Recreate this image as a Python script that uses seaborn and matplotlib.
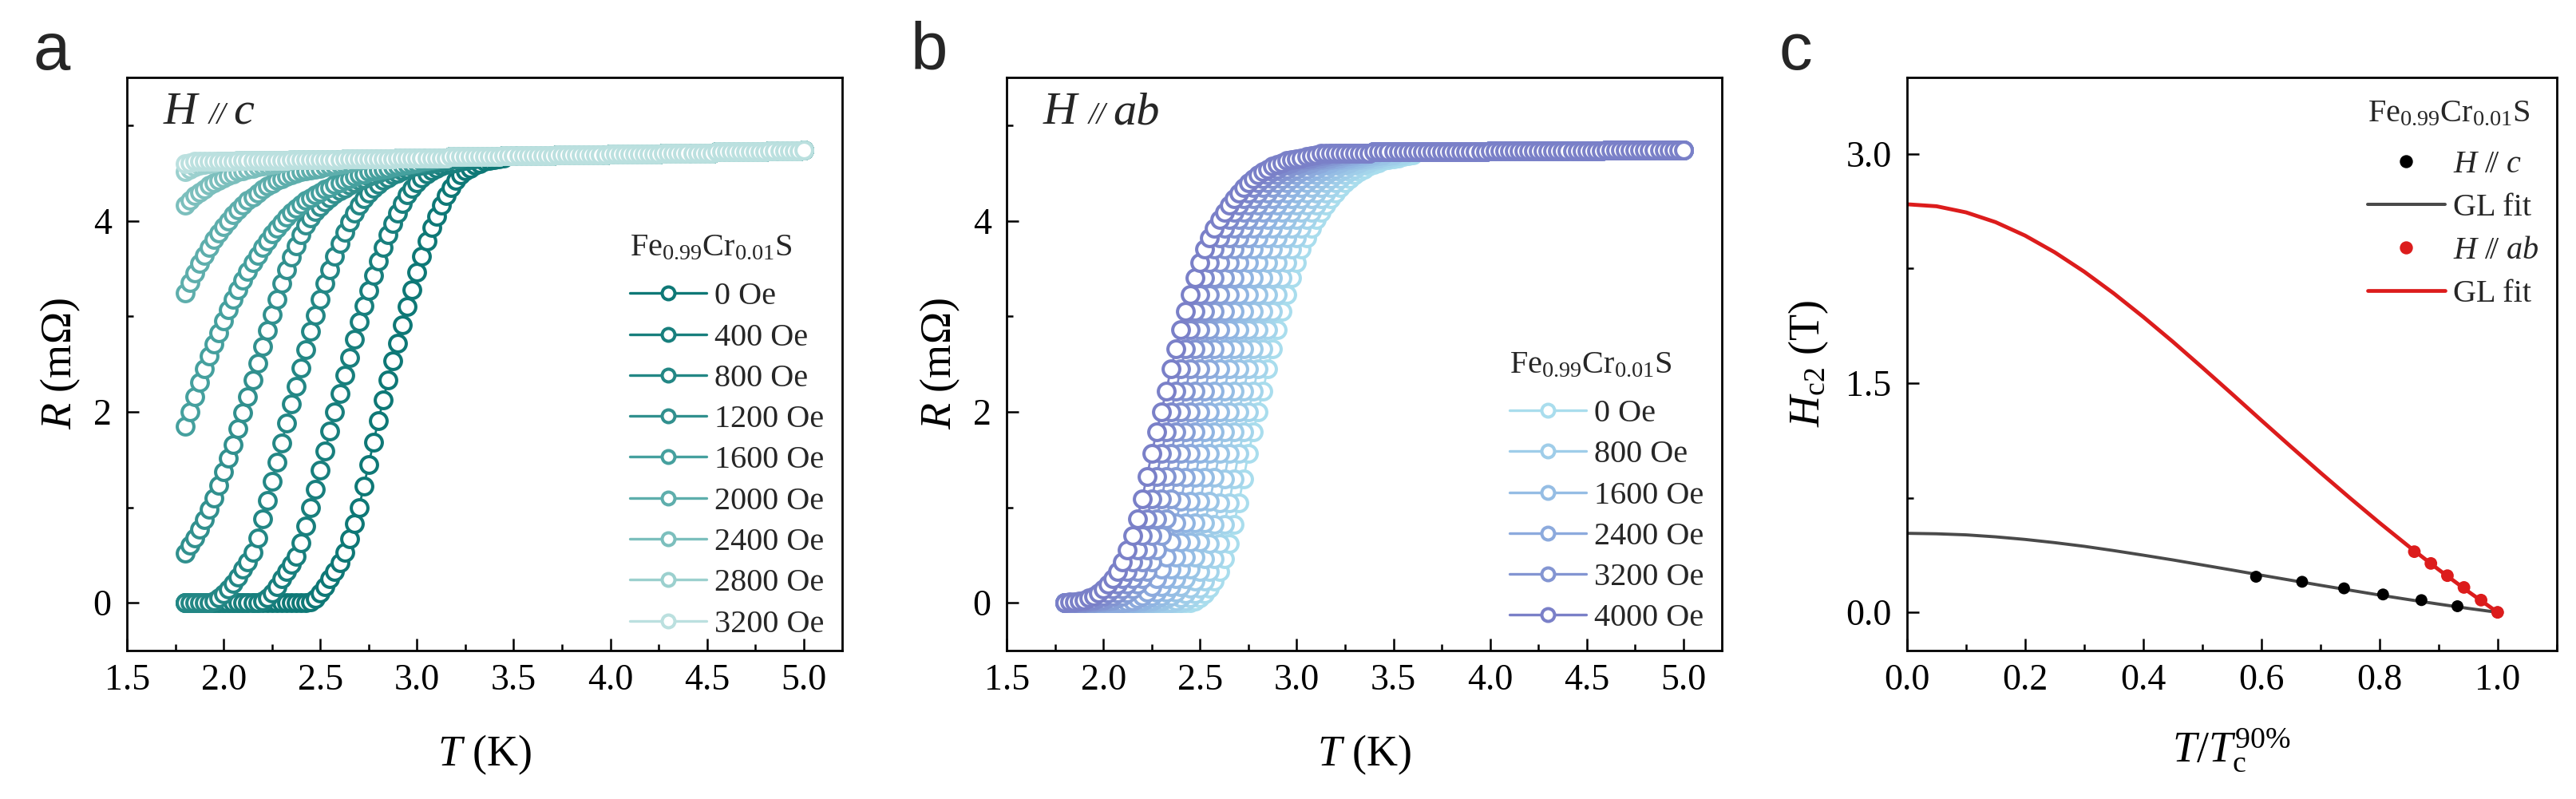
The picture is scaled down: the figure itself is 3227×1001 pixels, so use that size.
import numpy as np
import pandas as pd
import matplotlib.pyplot as plt
from matplotlib.lines import Line2D
from matplotlib.ticker import MultipleLocator, FormatStrFormatter
import seaborn as sns

sns.set_theme(style='ticks')
plt.rcParams['font.family'] = ['Liberation Serif', 'DejaVu Serif']
plt.rcParams['mathtext.fontset'] = 'custom'
plt.rcParams['mathtext.rm'] = 'Liberation Serif'
plt.rcParams['mathtext.it'] = 'Liberation Serif:italic'
plt.rcParams['mathtext.bf'] = 'Liberation Serif:bold'
plt.rcParams['axes.edgecolor'] = 'black'
plt.rcParams['axes.labelcolor'] = 'black'
plt.rcParams['xtick.color'] = 'black'
plt.rcParams['ytick.color'] = 'black'

# temperature grid of the R(T) sweeps (K)
T_first, T_step, n_T = 1.80, 0.025, 129
T = np.round(np.linspace(1.80, 5.00, n_T), 3)

#####################################################
##### panel a : H // c
#####################################################
fields_a = ['0 Oe', '400 Oe', '800 Oe', '1200 Oe', '1600 Oe',
            '2000 Oe', '2400 Oe', '2800 Oe', '3200 Oe']
# first temperature of each listed segment (below it R = 0)
onset_a = [2.425, 2.175, 1.925, 1.80, 1.80, 1.80, 1.80, 1.80, 1.80]

R_a_0 = [0.00, 0.01, 0.04, 0.10, 0.17, 0.25, 0.33, 0.42, 0.53, 0.67,
         0.83, 1.00, 1.22, 1.45, 1.68, 1.91, 2.12, 2.33, 2.53, 2.72,
         2.91, 3.10, 3.28, 3.46, 3.63, 3.79, 3.93, 4.05, 4.16, 4.26,
         4.35, 4.42, 4.48, 4.52, 4.55, 4.58, 4.60, 4.62, 4.63, 4.64,
         4.65, 4.66]
R_a_400 = [0.00, 0.02, 0.05, 0.10, 0.17, 0.25, 0.33, 0.40, 0.49, 0.63,
           0.80, 1.00, 1.19, 1.39, 1.59, 1.80, 2.00, 2.19, 2.38, 2.57,
           2.76, 2.94, 3.11, 3.27, 3.43, 3.58, 3.72, 3.85, 3.97, 4.08,
           4.18, 4.27, 4.34, 4.40, 4.45, 4.49, 4.52, 4.55, 4.57, 4.59,
           4.60, 4.61, 4.62, 4.63, 4.64, 4.65]
R_a_800 = [0.00, 0.02, 0.05, 0.09, 0.14, 0.20, 0.27, 0.35, 0.43, 0.53,
           0.68, 0.88, 1.07, 1.27, 1.47, 1.67, 1.88, 2.08, 2.27, 2.46,
           2.65, 2.84, 3.01, 3.18, 3.34, 3.49, 3.63, 3.76, 3.88, 3.99,
           4.08, 4.16, 4.23, 4.29, 4.34, 4.38, 4.42, 4.45, 4.48, 4.50,
           4.52, 4.54, 4.56, 4.57, 4.58, 4.59, 4.60, 4.61, 4.62, 4.63,
           4.64, 4.65, 4.66]
R_a_1200 = [0.52, 0.60, 0.68, 0.77, 0.87, 0.98, 1.10, 1.23, 1.37, 1.51,
            1.66, 1.82, 1.99, 2.16, 2.33, 2.51, 2.68, 2.85, 3.02, 3.18,
            3.34, 3.49, 3.62, 3.74, 3.85, 3.95, 4.03, 4.10, 4.15, 4.20,
            4.24, 4.28, 4.31, 4.34, 4.37, 4.40, 4.42, 4.44, 4.46, 4.48,
            4.50, 4.52, 4.53, 4.55, 4.56, 4.57, 4.58, 4.59, 4.60, 4.61,
            4.62, 4.63, 4.64, 4.65]
R_a_1600 = [1.85, 2.00, 2.16, 2.31, 2.45, 2.58, 2.71, 2.83, 2.95, 3.07,
            3.18, 3.28, 3.38, 3.47, 3.56, 3.64, 3.72, 3.79, 3.86, 3.92,
            3.98, 4.04, 4.09, 4.13, 4.17, 4.21, 4.24, 4.27, 4.30, 4.33,
            4.35, 4.38, 4.40, 4.42, 4.44, 4.46, 4.48, 4.49, 4.51, 4.52,
            4.53, 4.54, 4.55, 4.56, 4.57, 4.58, 4.59, 4.60, 4.61, 4.62,
            4.63, 4.64, 4.65]
R_a_2000 = [3.24, 3.35, 3.45, 3.55, 3.64, 3.72, 3.80, 3.87, 3.94, 4.00,
            4.06, 4.11, 4.16, 4.21, 4.25, 4.29, 4.33, 4.36, 4.39, 4.42,
            4.44, 4.46, 4.48, 4.50, 4.51, 4.52, 4.53, 4.54, 4.55, 4.56,
            4.57, 4.58, 4.59, 4.60, 4.61, 4.62, 4.63, 4.64, 4.65]
R_a_2400 = [4.16, 4.21, 4.26, 4.30, 4.33, 4.37, 4.40, 4.42, 4.45, 4.47,
            4.49, 4.51, 4.52, 4.54, 4.55, 4.56, 4.57, 4.58, 4.59, 4.60,
            4.61, 4.62, 4.63]
R_a_2800 = [4.51, 4.54, 4.56, 4.58, 4.59, 4.60, 4.61]
R_a_3200 = [4.60, 4.61]

# normal-state resistance shared by all sweeps once they have left the transition
R_normal_a = [
    4.62, 4.62, 4.62, 4.62, 4.62, 4.62, 4.62, 4.62, 4.62, 4.62, 4.62,
    4.63, 4.63, 4.63, 4.63, 4.63, 4.63, 4.63, 4.63, 4.63, 4.63, 4.63,
    4.64, 4.64, 4.64, 4.64, 4.64, 4.64, 4.64, 4.64, 4.64, 4.64, 4.64,
    4.65, 4.65, 4.65, 4.65, 4.65, 4.65, 4.65, 4.65, 4.65, 4.65, 4.65,
    4.66, 4.66, 4.66, 4.66, 4.66, 4.66, 4.66, 4.66, 4.66, 4.66, 4.66,
    4.67, 4.67, 4.67, 4.67, 4.67, 4.67, 4.67, 4.67, 4.67, 4.67, 4.67,
    4.68, 4.68, 4.68, 4.68, 4.68, 4.68, 4.68, 4.68, 4.68, 4.68, 4.68,
    4.69, 4.69, 4.69, 4.69, 4.69, 4.69, 4.69, 4.69, 4.69, 4.69, 4.69,
    4.70, 4.70, 4.70, 4.70, 4.70, 4.70, 4.70, 4.70, 4.70, 4.70, 4.70,
    4.71, 4.71, 4.71, 4.71, 4.71, 4.71, 4.71, 4.71, 4.71, 4.71, 4.71,
    4.72, 4.72, 4.72, 4.72, 4.72, 4.72, 4.72, 4.72, 4.72, 4.72, 4.72,
    4.73, 4.73, 4.73, 4.73, 4.73, 4.73, 4.73, 4.74]

segs_a = [R_a_0, R_a_400, R_a_800, R_a_1200, R_a_1600,
          R_a_2000, R_a_2400, R_a_2800, R_a_3200]

#####################################################
##### panel b : H // ab
#####################################################
fields_b = ['0 Oe', '400 Oe', '800 Oe', '1200 Oe', '1600 Oe', '2000 Oe',
            '2400 Oe', '2800 Oe', '3200 Oe', '3600 Oe', '4000 Oe']
onset_b = [2.30, 2.25, 2.20, 2.15, 2.10, 2.05, 2.00, 1.95, 1.90, 1.85, 1.80]
foot_b = ['sharp', 'sharp', 'sharp', 'mid', 'mid', 'mid', 'mid',
          'broad', 'broad', 'broad', 'broad']

R_b_foot = {
    'sharp': [0.00, 0.00, 0.00, 0.00, 0.00, 0.00, 0.00, 0.02, 0.05, 0.09,
              0.15, 0.23, 0.33, 0.46, 0.62, 0.82, 1.05, 1.30, 1.56, 1.79],
    'mid':   [0.00, 0.00, 0.00, 0.00, 0.00, 0.01, 0.02, 0.04, 0.07, 0.11,
              0.17, 0.25, 0.35, 0.48, 0.64, 0.84, 1.06, 1.31, 1.56, 1.79],
    'broad': [0.00, 0.01, 0.01, 0.02, 0.03, 0.05, 0.07, 0.10, 0.14, 0.19,
              0.25, 0.33, 0.43, 0.55, 0.70, 0.88, 1.09, 1.32, 1.56, 1.79],
}
R_b_top = [2.00, 2.22, 2.45, 2.66, 2.86, 3.05, 3.23, 3.40, 3.56, 3.70,
           3.82, 3.92, 4.01, 4.09, 4.16, 4.23, 4.29, 4.35, 4.40, 4.44,
           4.48, 4.51, 4.54, 4.57, 4.59, 4.61, 4.63, 4.64, 4.65, 4.66,
           4.67, 4.68, 4.69]

R_normal_b = [
    4.69, 4.69, 4.69, 4.69, 4.69, 4.69, 4.69, 4.69, 4.69, 4.69, 4.69,
    4.69, 4.69, 4.69, 4.69, 4.69, 4.69, 4.69, 4.69, 4.69, 4.69, 4.69,
    4.69, 4.69, 4.69, 4.69, 4.69, 4.69, 4.69, 4.69, 4.69, 4.69,
    4.70, 4.70, 4.70, 4.70, 4.70, 4.70, 4.70, 4.70,
    4.70, 4.70, 4.70, 4.70, 4.70, 4.70, 4.70, 4.70,
    4.71, 4.71, 4.71, 4.71, 4.71, 4.71, 4.71, 4.71,
    4.71, 4.71, 4.71, 4.71, 4.71, 4.71, 4.71, 4.71,
    4.72, 4.72, 4.72, 4.72, 4.72, 4.72, 4.72, 4.72, 4.72, 4.72, 4.72, 4.72,
    4.72, 4.72, 4.72, 4.72, 4.72, 4.72, 4.72, 4.72, 4.72, 4.72, 4.72, 4.72,
    4.73, 4.73, 4.73, 4.73, 4.73, 4.73, 4.73, 4.73, 4.73, 4.73, 4.73, 4.73,
    4.73, 4.73, 4.73, 4.73, 4.73, 4.73, 4.73, 4.73, 4.73, 4.73, 4.73, 4.73,
    4.74, 4.74, 4.74, 4.74, 4.74, 4.74, 4.74, 4.74, 4.74,
    4.74, 4.74, 4.74, 4.74, 4.74, 4.74, 4.74, 4.74]

#####################################################
##### panel c : upper critical field
#####################################################
t_c = [0.591, 0.669, 0.740, 0.806, 0.871, 0.932, 1.000]
Hc2_c = [0.233, 0.200, 0.157, 0.117, 0.080, 0.040, 0.000]
t_ab = [0.859, 0.887, 0.915, 0.943, 0.972, 1.000]
Hc2_ab = [0.397, 0.320, 0.240, 0.163, 0.080, 0.000]

t_fit = [0.00, 0.05, 0.10, 0.15, 0.20, 0.25, 0.30, 0.35, 0.40, 0.45, 0.50,
         0.55, 0.60, 0.65, 0.70, 0.75, 0.80, 0.85, 0.90, 0.95, 1.00]
Hc2_fit_c = [0.517, 0.514, 0.507, 0.494, 0.477, 0.456, 0.432, 0.404, 0.374,
             0.343, 0.310, 0.277, 0.243, 0.210, 0.177, 0.145, 0.113, 0.083,
             0.054, 0.026, 0.000]
Hc2_fit_ab = [2.670, 2.657, 2.617, 2.553, 2.465, 2.356, 2.229, 2.087, 1.933,
              1.771, 1.602, 1.430, 1.256, 1.084, 0.914, 0.748, 0.586, 0.430,
              0.280, 0.137, 0.000]

compound = r'Fe$_{0.99}$Cr$_{0.01}$S'

# colours
pal_a = ['#0e7876', '#187f7d', '#238785', '#31908e', '#45a09e',
         '#5eaeac', '#7cbfbd', '#9bd0ce', '#bbe0df']
pal_b = sns.blend_palette(['#a9dded', '#90b5e2', '#7a80c8'], len(fields_b))
c_black, c_gray, c_red = '#000000', '#4a4a4a', '#dc1c1c'


def sweep(onset, seg, normal):
    # zero resistance before the segment, normal state after it
    i0 = int(round((onset - T_first) / T_step))
    R = np.array(normal, dtype=float)
    R[:i0] = 0.0
    R[i0:i0 + len(seg)] = seg
    return R


def style_axes(ax):
    for s in ax.spines.values():
        s.set_visible(True)
        s.set_linewidth(2.0)
        s.set_color('black')
    ax.tick_params(which='both', direction='in', top=False, right=False,
                   width=1.8, labelsize=33)
    ax.tick_params(which='major', length=11)
    ax.tick_params(which='minor', length=6)
    ax.tick_params(axis='x', pad=12)
    ax.tick_params(axis='y', pad=14)


def field_tag(ax, rest):
    # "H // c" style tag: italic letters with a small slanted double bar
    kw = dict(xycoords='axes fraction', textcoords='offset points',
              ha='left', va='baseline', style='italic')
    ax.annotate('H', (0.051, 0.919), xytext=(0, 0), fontsize=42, **kw)
    ax.annotate('//', (0.051, 0.919), xytext=(41, 0), fontsize=28, **kw)
    ax.annotate(rest, (0.051, 0.919), xytext=(63, 0), fontsize=42, **kw)


def add_legend(ax, handles, labels, spacing, **kw):
    leg = ax.legend(handles, labels, title=compound, frameon=False,
                    fontsize=29, title_fontsize=29, handlelength=2.4,
                    handletextpad=0.25, labelspacing=spacing, borderpad=0,
                    borderaxespad=0, alignment='left', **kw)
    # a little more room between the compound name and the entries
    leg._legend_box.sep = spacing * 29 + 7
    return leg


fig = plt.figure(figsize=(32.27, 10.01), dpi=100)
ax_a = fig.add_axes([0.0493, 0.1858, 0.2777, 0.7173])
ax_b = fig.add_axes([0.3908, 0.1858, 0.2777, 0.7173])
ax_c = fig.add_axes([0.7403, 0.1858, 0.2522, 0.7173])

mk = dict(marker='o', markersize=15, markerfacecolor='white',
          markeredgewidth=2.9, linewidth=2.0)

# ---- a ----
for on, seg, col in zip(onset_a, segs_a, pal_a):
    R = sweep(on, seg, R_normal_a)
    sns.lineplot(x=T, y=R, color=col, markeredgecolor=col, estimator=None,
                 sort=False, ax=ax_a, **mk)

# ---- b ----
for on, ft, col in zip(onset_b, foot_b, pal_b):
    R = sweep(on, R_b_foot[ft] + R_b_top, R_normal_b)
    sns.lineplot(x=T, y=R, color=col, markeredgecolor=col, estimator=None,
                 sort=False, ax=ax_b, **mk)

for ax in (ax_a, ax_b):
    ax.set_xlim(1.5, 5.2)
    ax.set_ylim(-0.5, 5.5)
    ax.xaxis.set_major_locator(MultipleLocator(0.5))
    ax.xaxis.set_minor_locator(MultipleLocator(0.25))
    ax.xaxis.set_major_formatter(FormatStrFormatter('%.1f'))
    ax.yaxis.set_major_locator(MultipleLocator(2))
    ax.yaxis.set_minor_locator(MultipleLocator(1))
    ax.set_xlabel(r'$T$ (K)', fontsize=39, labelpad=32)
    ax.set_ylabel(r'$R$ (mΩ)', fontsize=39, labelpad=10)
    style_axes(ax)

field_tag(ax_a, 'c')
field_tag(ax_b, 'ab')

h_a = [Line2D([], [], color=c, lw=2.4, marker='o', ms=11.5, mfc='white',
              mec=c, mew=2.9) for c in pal_a]
add_legend(ax_a, h_a, fields_a, 0.35, loc='lower right',
           bbox_to_anchor=(0.975, 0.02))

show_b = list(range(0, len(fields_b), 2))
h_b = [Line2D([], [], color=pal_b[i], lw=2.4, marker='o', ms=11.5, mfc='white',
              mec=pal_b[i], mew=2.9) for i in show_b]
add_legend(ax_b, h_b, [fields_b[i] for i in show_b], 0.35, loc='lower right',
           bbox_to_anchor=(0.975, 0.03))

# ---- c ----
sns.lineplot(x=t_fit, y=Hc2_fit_c, color=c_gray, linewidth=2.8, ax=ax_c)
sns.scatterplot(x=t_c, y=Hc2_c, color=c_black, s=115, edgecolor='none', ax=ax_c, zorder=3)
sns.lineplot(x=t_fit, y=Hc2_fit_ab, color=c_red, linewidth=3.5, ax=ax_c)
sns.scatterplot(x=t_ab, y=Hc2_ab, color=c_red, s=130, edgecolor='none', ax=ax_c, zorder=4)

ax_c.set_xlim(0, 1.1)
ax_c.set_ylim(-0.25, 3.5)
ax_c.xaxis.set_major_locator(MultipleLocator(0.2))
ax_c.xaxis.set_minor_locator(MultipleLocator(0.1))
ax_c.xaxis.set_major_formatter(FormatStrFormatter('%.1f'))
ax_c.yaxis.set_major_locator(MultipleLocator(1.5))
ax_c.yaxis.set_minor_locator(MultipleLocator(0.75))
ax_c.yaxis.set_major_formatter(FormatStrFormatter('%.1f'))
ax_c.set_xlabel(r'$T/T_{\mathrm{c}}^{\mathrm{90\%}}$', fontsize=39, labelpad=26)
ax_c.set_ylabel(r'$H_{\mathrm{c2}}$ (T)', fontsize=39, labelpad=14)
style_axes(ax_c)

h_c = [Line2D([], [], ls='none', marker='o', ms=10.8, color=c_black),
       Line2D([], [], color=c_gray, lw=2.9),
       Line2D([], [], ls='none', marker='o', ms=10.8, color=c_red),
       Line2D([], [], color=c_red, lw=3.4)]
lab_c = [r'$H\ /\!/\ c$', 'GL fit', r'$H\ /\!/\ ab$', 'GL fit']
add_legend(ax_c, h_c, lab_c, 0.42, loc='upper right',
           bbox_to_anchor=(0.972, 0.962))

# panel letters
for x0, letter in [(41, 'a'), (1141, 'b'), (2229, 'c')]:
    fig.text(x0 / 3227, 1 - 87 / 1001, letter, fontsize=60,
             family='Liberation Sans', ha='left', va='baseline')

fig.savefig('out.png', dpi=100)
